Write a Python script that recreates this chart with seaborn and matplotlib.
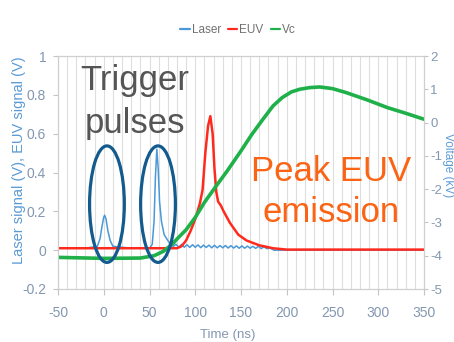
import matplotlib
matplotlib.use("Agg")
import matplotlib.pyplot as plt
import seaborn as sns
from matplotlib.patches import Ellipse
from matplotlib.lines import Line2D
from matplotlib.ticker import MultipleLocator, FuncFormatter

# Laser trigger signal (V)
laser_t = [-50, -20, -7, -4, -2, 0, 1, 2.5, 4.5, 7, 10, 30, 50, 53, 55, 56.5, 58, 59.5, 61, 63,
           66, 70, 73, 76, 79, 82, 85, 88, 91, 94, 97, 100, 103, 106, 109, 112, 115, 118, 121, 124,
           127, 130, 133, 136, 139, 142, 145, 148, 151, 154, 157, 160, 163, 166, 169, 172, 175, 178,
           182, 186, 350]
laser_v = [0.01, 0.01, 0.02, 0.06, 0.12, 0.17, 0.18, 0.16, 0.1, 0.05, 0.02, 0.01, 0.01, 0.03, 0.15,
           0.38, 0.52, 0.42, 0.25, 0.15, 0.08, 0.05, 0.03, 0.02, 0.03, 0.015, 0.03, 0.015, 0.028, 0.014,
           0.028, 0.015, 0.027, 0.013, 0.026, 0.014, 0.026, 0.012, 0.025, 0.012, 0.024, 0.012, 0.024,
           0.011, 0.023, 0.011, 0.022, 0.01, 0.022, 0.01, 0.021, 0.01, 0.02, 0.009, 0.02, 0.008, 0.018,
           0.008, 0.01, 0.0, 0.0]

# EUV photodiode signal (V)
euv_t = [-50, 80, 85, 90, 95, 100, 105, 108, 111, 114, 116.5, 119, 121, 123, 125, 128, 131, 138,
         147, 156, 170, 185, 200, 350]
euv_v = [0.01, 0.01, 0.02, 0.05, 0.1, 0.16, 0.24, 0.31, 0.5, 0.64, 0.69, 0.6, 0.42, 0.3, 0.25, 0.23,
         0.2, 0.14, 0.08, 0.05, 0.025, 0.01, 0.003, 0.003]

# Capacitor voltage (kV)
vc_t = [-50, 0, 40, 55, 65, 75, 81, 90, 100, 110, 123, 135, 150, 162, 174, 185, 195, 205, 214, 225,
        236, 250, 265, 288, 310, 330, 350]
vc_kv = [-4.05, -4.08, -4.07, -4.0, -3.87, -3.65, -3.47, -3.22, -2.85, -2.4, -1.9, -1.45, -0.85, -0.35,
         0.1, 0.5, 0.75, 0.92, 1.0, 1.05, 1.07, 1.02, 0.9, 0.68, 0.45, 0.28, 0.1]

series_names = ["Laser", "EUV", "Vc"]
series_colors = ["#4a98d8", "#ff2a1e", "#20b04a"]

sns.set_style("white")
plt.rcParams["font.family"] = ["Liberation Sans", "DejaVu Sans"]
plt.rcParams["axes.unicode_minus"] = False

W, H = 454, 342
fig = plt.figure(figsize=(W / 100, H / 100), dpi=100)
ax = fig.add_axes([58 / W, 1 - 289 / H, 366 / W, 233 / H])
ax2 = ax.twinx()

sns.lineplot(x=laser_t, y=laser_v, ax=ax, color=series_colors[0], lw=1.1, legend=False, zorder=2)
sns.lineplot(x=euv_t, y=euv_v, ax=ax, color=series_colors[1], lw=1.8, legend=False, zorder=3)
sns.lineplot(x=vc_t, y=vc_kv, ax=ax2, color=series_colors[2], lw=2.6, legend=False, zorder=2)

ax.set_xlim(-50, 350)
ax.set_ylim(-0.2, 1.0)
ax2.set_ylim(-5, 2)
ax.xaxis.set_major_locator(MultipleLocator(50))
ax.xaxis.set_minor_locator(MultipleLocator(10))
ax.yaxis.set_major_locator(MultipleLocator(0.2))
ax2.yaxis.set_major_locator(MultipleLocator(1))
fmt = FuncFormatter(lambda v, p: f"{round(v, 2):g}")
ax.yaxis.set_major_formatter(fmt)
ax2.yaxis.set_major_formatter(fmt)
ax.xaxis.set_major_formatter(fmt)

ax.set_axisbelow(True)
ax.grid(True, which="both", axis="x", color="#dedede", lw=0.8)
ax.grid(False, axis="y")
ax2.grid(False)
for a in (ax, ax2):
    a.set_xlabel("")
    a.set_ylabel("")
    for s in a.spines.values():
        s.set_color("#cfcfcf")
        s.set_linewidth(0.8)

tick_col = "#8497b0"
ax.tick_params(axis="y", length=3.5, width=0.8, color="#c4c4c4", pad=5, labelsize=10,
               labelcolor=tick_col, left=True)
ax.tick_params(axis="x", which="major", length=4, width=0.8, color="#c4c4c4", pad=8,
               labelsize=10, labelcolor=tick_col, bottom=True)
ax.tick_params(axis="x", which="minor", length=0)
ax2.tick_params(axis="y", length=3, width=0.8, color="#c4c4c4", pad=1.5, labelsize=9.5,
                labelcolor=tick_col, right=True)

# axis titles
fig.text(19 / W, 1 - 160 / H, "Laser signal (V), EUV signal (V)", rotation=90, ha="center",
         va="center", color="#5b9bd5", fontsize=10.5)
fig.text(447.5 / W, 1 - 165 / H, "Voltage (kV)", rotation=270, ha="center", va="center",
         color="#5b9bd5", fontsize=8.5)
fig.text(228 / W, 1 - 335 / H, "Time (ns)", ha="center", va="center", color=tick_col, fontsize=9.5)

# legend
handles = [Line2D([], [], color=c, lw=1.6) for c in series_colors]
fig.legend(handles=handles, labels=series_names, loc="center", bbox_to_anchor=(238 / W, 1 - 30 / H),
           ncol=3, frameon=False, handlelength=0.8, handletextpad=0.15, columnspacing=0.6,
           fontsize=8.5, labelcolor="#707070")

# trigger pulse markers
for cx in (3.5, 59.3):
    ax2.add_patch(Ellipse((cx, 0.237), width=38, height=0.6, transform=ax.transData,
                          facecolor="none", edgecolor="#135b8e", lw=2.3, zorder=5))

fig.text(135 / W, 1 - 90 / H, "Trigger", ha="center", va="baseline", color="#555555", fontsize=25)
fig.text(135 / W, 1 - 133 / H, "pulses", ha="center", va="baseline", color="#555555", fontsize=25)
fig.text(331 / W, 1 - 181 / H, "Peak EUV", ha="center", va="baseline", color="#fa6414", fontsize=25)
fig.text(331 / W, 1 - 222 / H, "emission", ha="center", va="baseline", color="#fa6414", fontsize=25)

fig.savefig("out.png", dpi=100, facecolor="white")
